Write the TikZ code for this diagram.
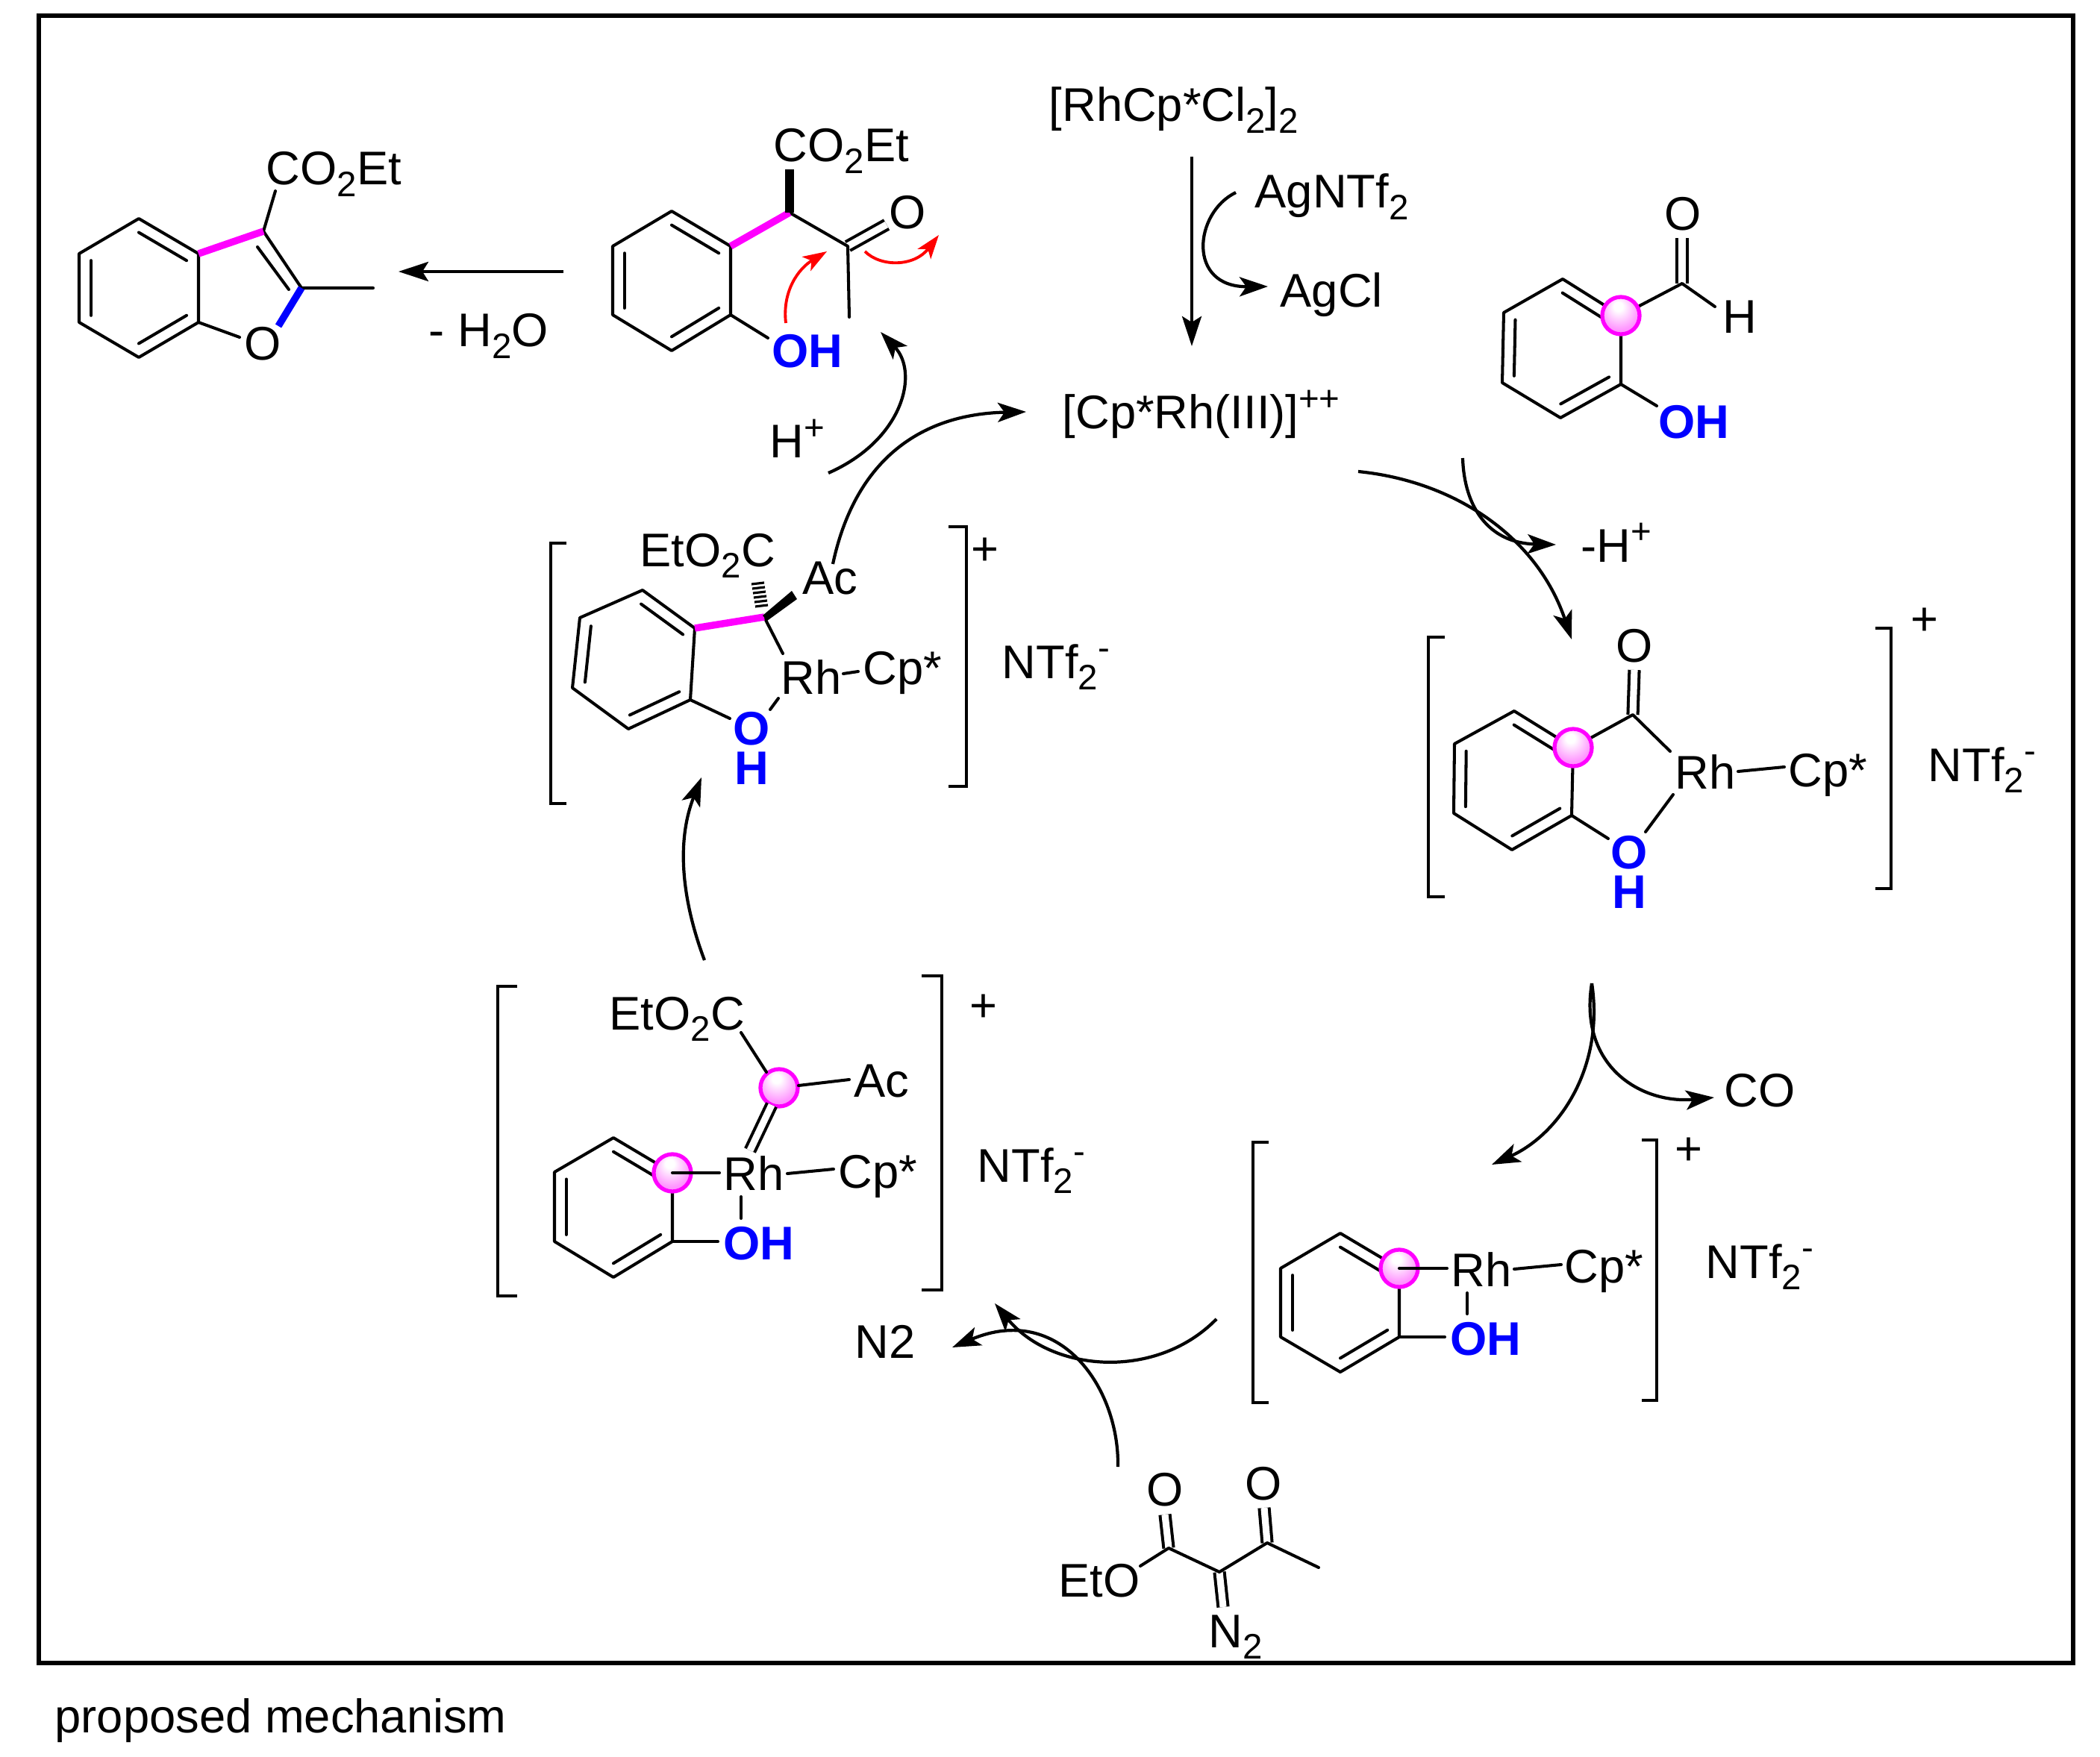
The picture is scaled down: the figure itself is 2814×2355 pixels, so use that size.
\documentclass[tikz,border=0pt]{standalone}
\usepackage{fontspec}
\setmainfont{Liberation Sans}
\usetikzlibrary{arrows.meta,calc}
\definecolor{bondpink}{RGB}{255,0,255}
\definecolor{oxblue}{RGB}{0,0,255}
\definecolor{pushred}{RGB}{255,0,0}
\pgfdeclareradialshading{dotshade}{\pgfpoint{-4bp}{14bp}}{color(0bp)=(white); color(6bp)=(white); color(25bp)=(bondpink!40!white); color(50bp)=(bondpink!75!white)}
\newcommand{\subt}[1]{\raisebox{-4.3pt}{\fontsize{13.5}{14}\selectfont #1}}
\newcommand{\supt}[1]{\raisebox{7pt}{\fontsize{13.5}{14}\selectfont #1}}
\newcommand{\arylring}[7]{%
    \coordinate (#1a) at (#2); \coordinate (#1b) at (#3); \coordinate (#1c) at (#4);
    \coordinate (#1d) at (#5); \coordinate (#1e) at (#6); \coordinate (#1f) at (#7);
    \coordinate (#1m) at ($(#1a)!.5!(#1d)$);
    \draw[bond] (#1a)--(#1b)--(#1c)--(#1d)--(#1e)--(#1f)--cycle;
    \draw[bond] ($(#1a)!.2!(#1m)$)--($(#1b)!.2!(#1m)$);
    \draw[bond] ($(#1c)!.2!(#1m)$)--($(#1d)!.2!(#1m)$);
    \draw[bond] ($(#1e)!.2!(#1m)$)--($(#1f)!.2!(#1m)$);
}
\tikzset{
    bond/.style={line width=1.15pt,line cap=round,line join=round},
    dblbond/.style={line width=1.15pt,double,double distance=2.6pt},
    colbond/.style={line width=2.7pt},
    bracket/.style={line width=1.3pt,line join=miter},
    chem/.style={anchor=base west,inner sep=0pt,xshift=-0.03cm,yshift=-0.01cm,font=\fontsize{18}{20}\selectfont},
    atom/.style={anchor=center,inner sep=0pt,font=\fontsize{18}{20}\selectfont},
    blue chem/.style={chem,text=oxblue,font=\fontsize{18}{20}\selectfont\bfseries},
    blue stack/.style={anchor=center,inner sep=0pt,align=center,text=oxblue,font=\fontsize{18}{15}\selectfont\bfseries},
    ball/.style={circle,draw=bondpink,line width=1.5pt,minimum size=0.5cm,inner sep=0pt,shading=dotshade},
    rxn/.style={line width=1.2pt,-{Stealth[length=3.8mm,width=2.6mm,inset=0.9mm]}},
    straight rxn/.style={line width=1.2pt,-{Stealth[length=4mm,width=2.6mm,inset=0.8mm]}},
    push/.style={line width=1.1pt,pushred,-{Stealth[length=3.2mm,width=2.2mm,inset=0.8mm]}},
}
\begin{document}
\begin{tikzpicture}[x=0.01cm,y=-0.01cm]
    \useasboundingbox (0,0) rectangle (2814,2355);
    \draw[line width=1.5pt] (52,21) rectangle (2778,2229);
    \node[anchor=base west,inner sep=0pt,font=\fontsize{18}{20}\selectfont] (caption) at (73,2322) {proposed mechanism};

    % benzofuran
    \arylring{fa}{186,293}{266,340}{266,432}{186,479}{106,432}{106,340}
    \coordinate (fc3) at (353,310); \coordinate (fc2) at (404,386); \coordinate (fme) at (500,386);
    \coordinate (fo) at (321,452); \coordinate (fob) at (373,437); \coordinate (fest) at (369,256);
    \draw[bond] (fc3)--(fc2)--(fme);
    \draw[bond] (345,331)--(387,388);
    \draw[bond] (fc3)--(fest);
    \draw[bond] (fac)--(fo);
    \draw[colbond,bondpink] (fab)--(fc3);
    \draw[colbond,oxblue] (fc2)--(fob);
    \node[chem] (festlabel) at (359,247) {CO\subt{2}Et};
    \node[atom] (folabel) at (352,461) {O};

    % ketoester
    \arylring{ka}{900,283}{979,330}{979,422}{900,470}{821,422}{821,330}
    \coordinate (kch) at (1058,285); \coordinate (kco) at (1136,330); \coordinate (kme) at (1138,425);
    \coordinate (kest) at (1058,227); \coordinate (kdb) at (1188,301); \coordinate (koh) at (1029,453);
    \draw[dblbond] (kco)--(kdb);
    \draw[bond] (kch)--(kco)--(kme);
    \draw[bond] (kac)--(koh);
    \draw[colbond,bondpink] (kab)--(kch);
    \draw[line width=3.6pt] (kch)--(kest);
    \node[chem] (kestlabel) at (1039,216) {CO\subt{2}Et};
    \node[atom] (kolabel) at (1216,285) {O};
    \node[blue chem] (kohlabel) at (1037,492) {OH};
    \coordinate (pa) at (1053,433); \coordinate (pb) at (1108,337);
    \coordinate (pc) at (1159,337); \coordinate (pd) at (1258,315);
    \draw[push] (pa) .. controls (1048,390) and (1070,360) .. (pb);
    \draw[push] (pc) .. controls (1180,358) and (1225,358) .. (pd);

    % dehydration
    \coordinate (dha) at (755,364); \coordinate (dhb) at (534,364);
    \draw[straight rxn] (dha)--(dhb);
    \node[chem] (dhlabel) at (577,464) {- H\subt{2}O};

    % catalyst
    \node[chem] (rhdimer) at (1408,162) {[RhCp*Cl\subt{2}]\subt{2}};
    \node[chem] (agntf) at (1684,278) {AgNTf\subt{2}};
    \node[chem] (agcl) at (1718,411) {AgCl};
    \node[chem] (rhcat) at (1426,574) {[Cp*Rh(III)]\supt{++}};
    \coordinate (gaa) at (1597,210); \coordinate (gab) at (1597,464);
    \coordinate (gac) at (1656,258); \coordinate (gad) at (1699,384);
    \draw[straight rxn] (gaa)--(gab);
    \draw[rxn] (gac) .. controls (1600,285) and (1590,385) .. (gad);

    % salicylaldehyde
    \arylring{sa}{2094,374}{2172,423}{2172,515}{2091,560}{2013,513}{2015,419}
    \coordinate (scho) at (2254,380); \coordinate (sdb) at (2254,319);
    \coordinate (sh) at (2298,411); \coordinate (soh) at (2220,544);
    \draw[dblbond] (scho)--(sdb);
    \draw[bond] (sab)--(scho)--(sh);
    \draw[bond] (sac)--(soh);
    \node[ball] (sdot) at (sab) {};
    \node[atom] (solabel) at (2255,287) {O};
    \node[atom] (shlabel) at (2331,425) {H};
    \node[blue chem] (sohlabel) at (2225,587) {OH};

    % acyl complex
    \draw[bracket] (1936,854) -- (1914,854) -- (1914,1202) -- (1936,1202);
    \draw[bracket] (2513,842) -- (2534,842) -- (2534,1191) -- (2513,1191);
    \arylring{aa}{2029,953}{2108,1002}{2106,1093}{2026,1139}{1948,1090}{1949,997}
    \coordinate (aco) at (2188,958); \coordinate (adb) at (2190,898); \coordinate (arh) at (2238,1007);
    \coordinate (arhb) at (2329,1034); \coordinate (acp) at (2391,1028);
    \coordinate (arho) at (2242,1065); \coordinate (aorh) at (2205,1115); \coordinate (aoh) at (2155,1124);
    \draw[dblbond] (aco)--(adb);
    \draw[bond] (aab)--(aco)--(arh);
    \draw[bond] (arhb)--(acp);
    \draw[bond] (arho)--(aorh);
    \draw[bond] (aac)--(aoh);
    \node[ball] (adot) at (aab) {};
    \node[atom] (aolabel) at (2190,866) {O};
    \node[chem] (arhlabel) at (2247,1056) {Rh};
    \node[chem] (acplabel) at (2399,1053) {Cp*};
    \node[chem] (antf) at (2586,1046) {NTf\subt{2}\supt{-}};
    \node[atom] (aplus) at (2579,833) {+};
    \node[blue stack] (aohstack) at (2183,1169) {O\\H};

    % aryl rhodium
    \draw[bracket] (1700,1531) -- (1679,1531) -- (1679,1880) -- (1700,1880);
    \draw[bracket] (2200,1528) -- (2220,1528) -- (2220,1877) -- (2200,1877);
    \arylring{ra}{1796,1653}{1875,1700}{1875,1792}{1796,1839}{1716,1792}{1716,1700}
    \node[ball] (rdot) at (rab) {};
    \coordinate (rrh) at (1939,1700); \coordinate (rrhb) at (2029,1701); \coordinate (rcp) at (2092,1695);
    \coordinate (rrho) at (1966,1733); \coordinate (rorh) at (1966,1761); \coordinate (roh) at (1936,1792);
    \draw[bond] (rab)--(rrh);
    \draw[bond] (rrhb)--(rcp);
    \draw[bond] (rrho)--(rorh);
    \draw[bond] (rac)--(roh);
    \node[chem] (rrhlabel) at (1947,1723) {Rh};
    \node[chem] (rcplabel) at (2099,1718) {Cp*};
    \node[chem] (rntf) at (2288,1712) {NTf\subt{2}\supt{-}};
    \node[atom] (rplus) at (2263,1543) {+};
    \node[blue chem] (rohlabel) at (1946,1815) {OH};

    % carbene complex
    \draw[bracket] (693,1322) -- (667,1322) -- (667,1737) -- (693,1737);
    \draw[bracket] (1235,1308) -- (1262,1308) -- (1262,1729) -- (1235,1729);
    \arylring{ca}{822,1525}{901,1572}{901,1664}{822,1712}{743,1664}{743,1571}
    \node[ball] (cdot) at (cab) {};
    \node[ball] (cdotb) at (1044,1458) {};
    \coordinate (cest) at (993,1384); \coordinate (cestb) at (1027,1437);
    \coordinate (cacyl) at (1138,1447); \coordinate (cacylb) at (1070,1455);
    \coordinate (cdba) at (1034,1481); \coordinate (cdbb) at (1005,1542);
    \coordinate (crh) at (964,1572); \coordinate (crhb) at (1055,1573); \coordinate (ccp) at (1117,1567);
    \coordinate (crho) at (993,1604); \coordinate (corh) at (993,1633); \coordinate (coh) at (962,1664);
    \draw[bond] (cest)--(cestb);
    \draw[bond] (cacylb)--(cacyl);
    \draw[dblbond] (cdba)--(cdbb);
    \draw[bond] (cab)--(crh);
    \draw[bond] (crhb)--(ccp);
    \draw[bond] (crho)--(corh);
    \draw[bond] (cac)--(coh);
    \node[chem] (cest2) at (819,1379) {EtO\subt{2}C};
    \node[chem] (caclabel) at (1147,1469) {Ac};
    \node[chem] (crhlabel) at (972,1594) {Rh};
    \node[chem] (ccplabel) at (1126,1591) {Cp*};
    \node[chem] (cntf) at (1312,1583) {NTf\subt{2}\supt{-}};
    \node[atom] (cplus) at (1318,1351) {+};
    \node[blue chem] (cohlabel) at (972,1687) {OH};

    % metallacycle
    \draw[bracket] (759,728) -- (738,728) -- (738,1077) -- (759,1077);
    \draw[bracket] (1271,706) -- (1295,706) -- (1295,1054) -- (1271,1054);
    \arylring{ma}{861,791}{931,842}{925,938}{842,977}{767,922}{777,828}
    \coordinate (mc) at (1024,827); \coordinate (mrh) at (1049,876);
    \coordinate (mrho) at (1043,936); \coordinate (morh) at (1032,951); \coordinate (mo) at (978,963);
    \coordinate (mrhb) at (1130,903); \coordinate (mcp) at (1150,900);
    \draw[bond] (mc)--(mrh);
    \draw[bond] (mrho)--(morh);
    \draw[bond] (mac)--(mo);
    \draw[bond] (mrhb)--(mcp);
    \draw[colbond,bondpink] (mab)--(mc);
    \fill (1022,825) -- (1061,792) -- (1068,803) -- (1028,832) -- cycle;
    \foreach \i in {0,...,5}
        \draw[line width=0.9pt] ({1007+\i},{783+6*\i}) -- ({1024+\i},{781+6*\i});
    \node[chem] (mest) at (860,758) {EtO\subt{2}C};
    \node[chem] (maclabel) at (1078,795) {Ac};
    \node[chem] (mrhlabel) at (1049,929) {Rh};
    \node[chem] (mcplabel) at (1159,916) {Cp*};
    \node[chem] (mntf) at (1345,908) {NTf\subt{2}\supt{-}};
    \node[atom] (mplus) at (1320,739) {+};
    \node[blue stack] (mohstack) at (1007,1003) {O\\H};

    % diazo ester
    \coordinate (zc1) at (1566,2075); \coordinate (zc2) at (1634,2107); \coordinate (zc3) at (1698,2068);
    \coordinate (zme) at (1767,2101); \coordinate (zeto) at (1528,2099);
    \coordinate (zdb1) at (1561,2030); \coordinate (zdb3) at (1694,2021);
    \coordinate (zdbn) at (1639,2154);
    \draw[dblbond] (zc1)--(zdb1);
    \draw[dblbond] (zc3)--(zdb3);
    \draw[dblbond] (zc2)--(zdbn);
    \draw[bond] (zeto)--(zc1)--(zc2)--(zc3)--(zme);
    \node[atom] (zo1) at (1561,1997) {O};
    \node[atom] (zo3) at (1693,1989) {O};
    \node[chem] (zetolabel) at (1421,2139) {EtO};
    \node[chem] (znlabel) at (1622,2207) {N\subt{2}};
    \node[chem] (ntwo) at (1148,1819) {N2};

    % cycle arrows
    \coordinate (cyaa) at (1820,632); \coordinate (cyab) at (2106,857);
    \coordinate (cyba) at (1960,614); \coordinate (cybb) at (2085,730);
    \coordinate (cyca) at (2133,1318); \coordinate (cycb) at (1999,1561);
    \coordinate (cycc) at (2297,1471);
    \coordinate (cyda) at (1630,1768); \coordinate (cydb) at (1333,1747);
    \coordinate (cyea) at (1498,1966); \coordinate (cyeb) at (1276,1806);
    \coordinate (cyfa) at (944,1287); \coordinate (cyfb) at (940,1042);
    \coordinate (cyga) at (1116,756); \coordinate (cygb) at (1375,552);
    \coordinate (cyha) at (1110,634); \coordinate (cyhb) at (1180,445);
    \draw[rxn] (cyaa) .. controls (1950,645) and (2060,720) .. (cyab);
    \draw[rxn] (cyba) .. controls (1962,680) and (1995,728) .. (cybb);
    \draw[rxn] (cyca) .. controls (2150,1430) and (2090,1520) .. (cycb);
    \draw[rxn] (cyca) .. controls (2115,1430) and (2200,1480) .. (cycc);
    \draw[rxn] (cyda) .. controls (1550,1850) and (1410,1840) .. (cydb);
    \draw[rxn] (cyea) .. controls (1500,1860) and (1420,1745) .. (cyeb);
    \draw[rxn] (cyfa) .. controls (915,1210) and (905,1130) .. (cyfb);
    \draw[rxn] (cyga) .. controls (1145,620) and (1230,555) .. (cygb);
    \draw[rxn] (cyha) .. controls (1210,590) and (1232,500) .. (cyhb);
    \node[chem] (hminus) at (2121,752) {-H\supt{+}};
    \node[chem] (hplus) at (1034,613) {H\supt{+}};
    \node[chem] (colabel) at (2313,1482) {CO};
\end{tikzpicture}
\end{document}
